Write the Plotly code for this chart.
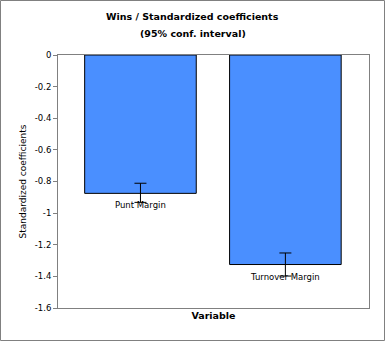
import plotly.graph_objects as go

categories = ["Punt Margin", "Turnover Margin"]
values = [-0.875, -1.325]
err_plus = [0.064, 0.073]
err_minus = [0.057, 0.073]
xpos = [0, 1]
yticks = [0, -0.2, -0.4, -0.6, -0.8, -1, -1.2, -1.4, -1.6]
ytick_labels = ["0", "-0.2", "-0.4", "-0.6", "-0.8", "-1", "-1.2", "-1.4", "-1.6"]
title_lines = ["Wins / Standardized coefficients", "(95% conf. interval)"]

W, H = 385, 341
ml, mr, mt, mb = 58, 16, 55, 33
font = "DejaVu Sans"

fig = go.Figure()
fig.add_trace(go.Bar(
    x=xpos, y=values, width=0.77,
    marker=dict(color="#4A8FFF", line=dict(color="black", width=1)),
    error_y=dict(type="data", array=err_plus, arrayminus=err_minus,
                 color="black", thickness=1, width=6, symmetric=False),
    showlegend=False, hoverinfo="skip",
))

for xv, yv, lab in zip(xpos, values, categories):
    fig.add_annotation(x=xv, y=yv, text=lab, showarrow=False,
                       xanchor="center", yanchor="middle", yshift=-12,
                       font=dict(family=font, size=8.5, color="black"))

pw = W - ml - mr
ph = H - mt - mb
for i, line in enumerate(title_lines):
    ypx = 17 + 16 * i
    fig.add_annotation(xref="paper", yref="paper",
                       x=(W / 2 - ml) / pw, y=(H - mb - ypx) / ph,
                       text="<b>%s</b>" % line, showarrow=False,
                       xanchor="center", yanchor="middle",
                       font=dict(family=font, size=9.5, color="black"))

fig.add_shape(type="rect", xref="paper", yref="paper",
              x0=(-ml + 0.5) / pw, x1=(pw + mr - 0.5) / pw,
              y0=(-mb + 0.5) / ph, y1=(ph + mt - 0.5) / ph,
              line=dict(color="#808080", width=1), layer="below")

fig.update_layout(
    width=W, height=H,
    margin=dict(l=ml, r=mr, t=mt, b=mb),
    paper_bgcolor="white", plot_bgcolor="white",
    font=dict(family=font, size=8.5, color="black"),
    xaxis=dict(range=[-0.569, 1.577], showticklabels=False, ticks="",
               showgrid=False, zeroline=False, showline=True, mirror=True,
               linecolor="#808080", linewidth=1,
               title=dict(text="<b>Variable</b>", standoff=4,
                          font=dict(family=font, size=9.5))),
    yaxis=dict(range=[-1.6, 0], tickvals=yticks, ticktext=ytick_labels,
               ticks="outside", ticklen=4, tickcolor="#808080",
               showgrid=False, zeroline=False, showline=True, mirror=True,
               linecolor="#808080", linewidth=1,
               title=dict(text="Standardized coefficients", standoff=6,
                          font=dict(family=font, size=9))),
)

fig.write_html("out.html")
